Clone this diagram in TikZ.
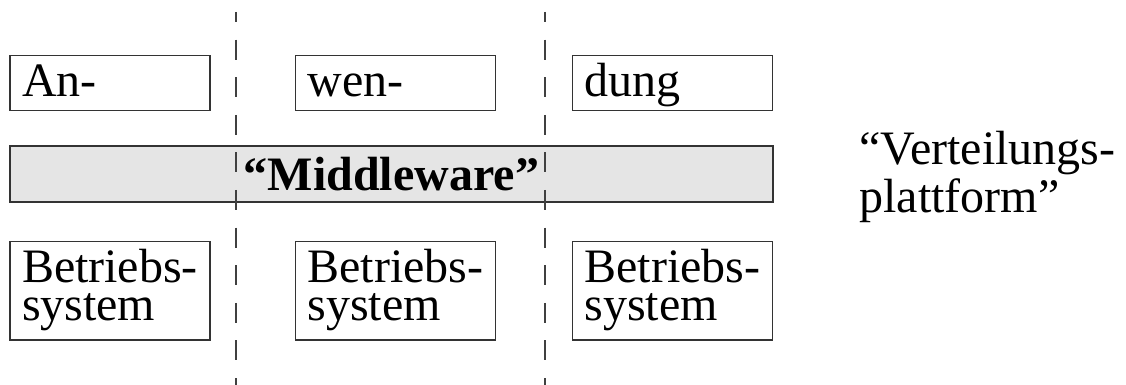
\documentclass[tikz,border=0pt]{standalone}
\usepackage{fontspec}
\setmainfont{Liberation Serif}
\tikzset{
  rechner/.style={draw=black!80, line width=0.75pt, text width=88pt, inner xsep=6pt, inner ysep=0pt,
    text height=20.5pt, text depth=7pt, align=left,
    font=\fontsize{24}{18.75}\selectfont},
  bsys/.style={rechner, text depth=28.5pt},
  mware/.style={draw=black!80, fill=black!10, line width=0.75pt, minimum width=381.5pt,
    minimum height=28pt, inner sep=0pt, font=\fontsize{24}{24}\selectfont\bfseries},
  trenn/.style={draw=black!75, line width=0.75pt, dash pattern=on 10pt off 8.8pt, dash phase=5pt}
}
\begin{document}
\begin{tikzpicture}[x=0.5pt,y=-0.5pt]
\useasboundingbox (0,0) rectangle (1126,385);
%% Anwendung
\node[rechner, anchor=north] (an) at (110,55) {An-};
\node[rechner, anchor=north] (wen) at (395.5,55) {wen-};
\node[rechner, anchor=north] (dung) at (672.5,55) {dung};
%% Middleware
\node[mware] (mw) at (391.5,174) {“Middleware”};
%% Betriebssysteme
\node[bsys, anchor=north] (bs1) at (110,241) {Betriebs-\\system};
\node[bsys, anchor=north] (bs2) at (395.5,241) {Betriebs-\\system};
\node[bsys, anchor=north] (bs3) at (672.5,241) {Betriebs-\\system};
%%%%
\coordinate (t1) at (236,12);
\coordinate (b1) at (236,385);
\coordinate (t2) at (545,12);
\coordinate (b2) at (545,385);
\draw[trenn] (t1) -- (b1);
\draw[trenn] (t2) -- (b2);
%%%%
\node[anchor=base west, align=left, inner sep=0pt, font=\fontsize{24}{24}\selectfont]
  (vp) at (859,213) {“Verteilungs-\\plattform”};
\end{tikzpicture}
\end{document}
